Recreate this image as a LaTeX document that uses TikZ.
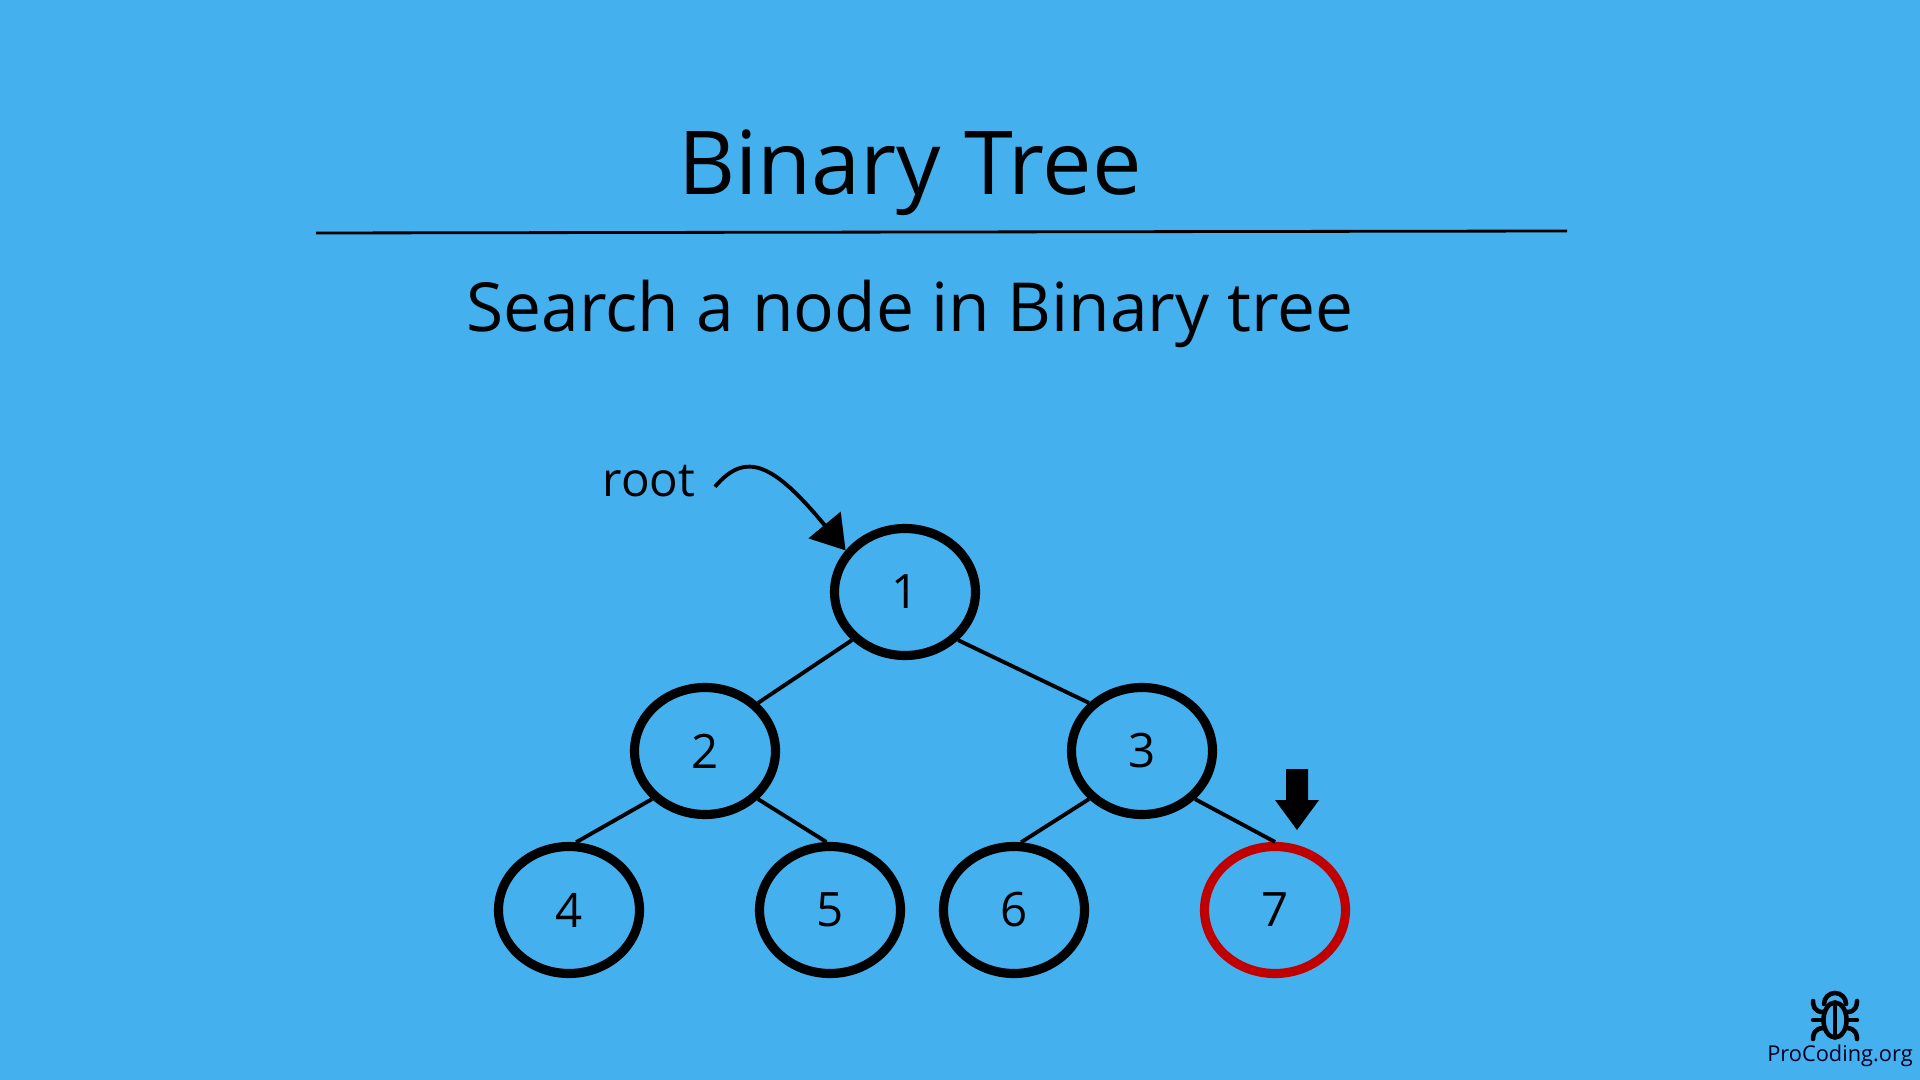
\documentclass[tikz,border=0pt]{standalone}
\usepackage{fontspec}
\setmainfont{Open Sans}
\usepackage{xcolor}
\usetikzlibrary{arrows.meta,shapes.geometric}
\definecolor{skyback}{HTML}{44B0EE}
\definecolor{hitred}{HTML}{C00000}

\begin{document}
\begin{tikzpicture}
	\fill [skyback] (0,0) rectangle (19.2,-10.8);
	\useasboundingbox (0,0) rectangle (19.2,-10.8);

	\node (title) at (9.10,-1.73) {\fontsize{25.1}{30}\selectfont Binary Tree};
	\node (subtitle) at (9.10,-3.14) {\fontsize{19.25}{24}\selectfont Search a node in Binary tree};
	\coordinate (ruleL) at (3.16,-2.33);
	\coordinate (ruleR) at (15.67,-2.31);
	\draw [line width=0.8pt] (ruleL) -- (ruleR);

	\begin{scope}[every node/.style = {ellipse, draw, line width=2.6pt, inner sep=0pt,
			minimum width=1.41cm, minimum height=1.27cm, font=\fontsize{13.5}{16}\selectfont}]
		\node (A) at (9.05,-5.92) {1};
		\node (B) at (7.05,-7.51) {2};
		\node (C) at (11.42,-7.51) {3};
		\node (D) at (5.69,-9.10) {4};
		\node (E) at (8.30,-9.10) {5};
		\node (F) at (10.14,-9.10) {6};
		\node [draw=hitred] (G) at (12.75,-9.10) {7};
	\end{scope}

	\begin{scope}[every edge/.style={draw=black, line width=1.1pt}]
		\path (A.south west) edge (B.north east);
		\path (A.south east) edge (C.north west);
		\path (B.south west) edge (D.84);
		\path (B.south east) edge (E.93);
		\path (C.south west) edge (F.84);
		\path (C.south east) edge (G.north);
	\end{scope}

	% root pointer
	\node [inner xsep=0.19cm, font=\fontsize{13.5}{16}\selectfont] (root) at (6.49,-4.81) {root};
	\draw [-{Triangle[length=0.33cm,width=0.41cm]}, line width=1.1pt] (root.-5) ..
		controls (7.46,-4.50) and (7.74,-4.64) .. (A.145);

	% marker above the found node
	\fill (12.86,-7.69) -- (13.08,-7.69) -- (13.08,-8.00) -- (13.19,-8.00) --
		(12.97,-8.30) -- (12.75,-8.00) -- (12.86,-8.00) -- cycle;

	% bug logo
	\begin{scope}[line width=1.3pt, line cap=round]
		\draw (18.35,-10.2) ellipse (0.115 and 0.175);
		\draw (18.35,-10.05) -- (18.35,-10.35);
		\draw (18.24,-10.04) arc (180:0:0.11);
		\draw (18.23,-10.12) .. controls (18.14,-10.12) and (18.13,-10.05) .. (18.13,-10.01);
		\draw (18.47,-10.12) .. controls (18.56,-10.12) and (18.57,-10.05) .. (18.57,-10.01);
		\draw (18.13,-10.2) -- (18.23,-10.2);
		\draw (18.47,-10.2) -- (18.57,-10.2);
		\draw (18.24,-10.28) .. controls (18.14,-10.28) and (18.13,-10.35) .. (18.13,-10.39);
		\draw (18.46,-10.28) .. controls (18.56,-10.28) and (18.57,-10.35) .. (18.57,-10.39);
	\end{scope}
	\node [text=black!85!blue] (brand) at (18.40,-10.56) {\fontsize{6.2}{8}\selectfont ProCoding.org};
\end{tikzpicture}
\end{document}
